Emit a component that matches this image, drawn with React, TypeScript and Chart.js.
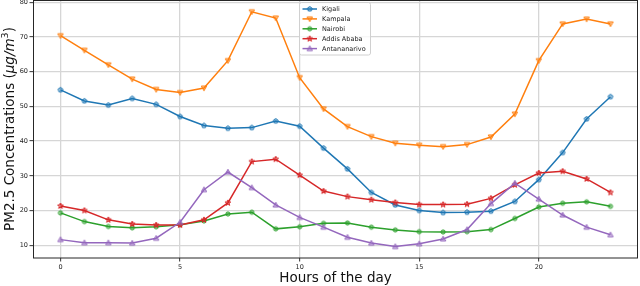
import React, { useEffect, useRef } from 'react';
import { Chart, registerables } from 'chart.js';

Chart.register(...registerables);

// ---------- data ----------
const hours = [0, 1, 2, 3, 4, 5, 6, 7, 8, 9, 10, 11, 12, 13, 14, 15, 16, 17, 18, 19, 20, 21, 22, 23];
const kigali = [54.8, 51.6, 50.4, 52.3, 50.6, 47.1, 44.5, 43.7, 43.9, 45.8, 44.3, 38.0, 32.0, 25.2, 21.6, 20.0, 19.4, 19.5, 19.8, 22.6, 28.9, 36.7, 46.4, 52.8];
const kampala = [70.4, 66.2, 62.0, 57.9, 54.9, 54.0, 55.3, 63.2, 77.3, 75.5, 58.3, 49.3, 44.2, 41.3, 39.4, 38.8, 38.4, 39.0, 41.2, 47.8, 63.2, 73.8, 75.2, 73.8];
const nairobi = [19.3, 16.8, 15.4, 15.0, 15.3, 15.9, 17.0, 19.0, 19.5, 14.7, 15.3, 16.3, 16.4, 15.2, 14.4, 13.9, 13.8, 13.9, 14.5, 17.7, 21.0, 22.1, 22.5, 21.2];
const addisAbaba = [21.3, 20.0, 17.3, 16.1, 15.8, 15.8, 17.3, 22.2, 34.1, 34.8, 30.2, 25.6, 24.0, 23.1, 22.3, 21.7, 21.7, 21.8, 23.5, 27.4, 30.8, 31.3, 29.1, 25.2];
const antananarivo = [11.6, 10.7, 10.7, 10.6, 12.0, 16.6, 26.0, 31.1, 26.6, 21.6, 18.0, 15.2, 12.3, 10.6, 9.6, 10.4, 11.8, 14.5, 22.0, 27.9, 23.3, 18.7, 15.2, 13.0];

const seriesLabels = ['Kigali', 'Kampala', 'Nairobi', 'Addis Ababa', 'Antananarivo'];
const seriesValues = [kigali, kampala, nairobi, addisAbaba, antananarivo];
const seriesColors = ['#1f77b4', '#ff7f0e', '#2ca02c', '#d62728', '#9467bd'];
const seriesMarkers = ['pentagon', 'triDown', 'circle', 'star', 'triUp'];

const xTicks = [0, 5, 10, 15, 20];
const yTicks = [10, 20, 30, 40, 50, 60, 70, 80];
const xTitle = 'Hours of the day';

// ---------- helpers ----------
function hexA(hex: string, a: number) {
  const r = parseInt(hex.slice(1, 3), 16);
  const g = parseInt(hex.slice(3, 5), 16);
  const b = parseInt(hex.slice(5, 7), 16);
  return `rgba(${r},${g},${b},${a})`;
}

function markerPath(ctx: CanvasRenderingContext2D, kind: string, cx: number, cy: number) {
  ctx.beginPath();
  if (kind === 'circle') {
    ctx.arc(cx, cy, 2.1, 0, Math.PI * 2);
  } else if (kind === 'pentagon') {
    const r = 2.5;
    for (let i = 0; i < 5; i++) {
      const a = -Math.PI / 2 + (i * 2 * Math.PI) / 5;
      const px = cx + r * Math.cos(a);
      const py = cy + r * Math.sin(a);
      if (i === 0) ctx.moveTo(px, py);
      else ctx.lineTo(px, py);
    }
    ctx.closePath();
  } else if (kind === 'star') {
    const ro = 3.0, ri = 1.25;
    for (let i = 0; i < 10; i++) {
      const r = i % 2 === 0 ? ro : ri;
      const a = -Math.PI / 2 + (i * Math.PI) / 5;
      const px = cx + r * Math.cos(a);
      const py = cy + r * Math.sin(a);
      if (i === 0) ctx.moveTo(px, py);
      else ctx.lineTo(px, py);
    }
    ctx.closePath();
  } else if (kind === 'triDown') {
    const r = 2.7;
    ctx.moveTo(cx - r, cy - r * 0.75);
    ctx.lineTo(cx + r, cy - r * 0.75);
    ctx.lineTo(cx, cy + r);
    ctx.closePath();
  } else if (kind === 'triUp') {
    const r = 2.7;
    ctx.moveTo(cx - r, cy + r * 0.75);
    ctx.lineTo(cx + r, cy + r * 0.75);
    ctx.lineTo(cx, cy - r);
    ctx.closePath();
  }
}

function makeMarker(kind: string, color: string): HTMLCanvasElement {
  const c = document.createElement('canvas');
  c.width = 10;
  c.height = 10;
  const ctx = c.getContext('2d')!;
  markerPath(ctx, kind, 5, 5);
  ctx.fillStyle = hexA(color, 0.4);
  ctx.fill();
  ctx.lineWidth = 1;
  ctx.strokeStyle = color;
  ctx.stroke();
  return c;
}

export default function App() {
  const ref = useRef<HTMLCanvasElement | null>(null);

  useEffect(() => {
    document.body.style.margin = '0';
    const canvas = ref.current;
    if (!canvas) return;

    const markers = seriesMarkers.map((m, i) => makeMarker(m, seriesColors[i]));

    const datasets = seriesLabels.map((label, i) => ({
      label,
      data: hours.map((h, j) => ({ x: h, y: seriesValues[i][j] })),
      borderColor: seriesColors[i],
      backgroundColor: seriesColors[i],
      borderWidth: 1.5,
      pointStyle: markers[i] as any,
      pointRadius: 3,
      tension: 0,
      order: seriesLabels.length - 1 - i,
    }));

    const framePlugin = {
      id: 'frameAndText',
      afterDraw(chart: any) {
        const ctx: CanvasRenderingContext2D = chart.ctx;
        const ca = chart.chartArea;
        ctx.save();
        // frame
        ctx.strokeStyle = '#262626';
        ctx.lineWidth = 1;
        ctx.strokeRect(ca.left + 0.5, ca.top + 0.5, ca.right - ca.left - 1, ca.bottom - ca.top - 0.5);

        // legend
        const bx = 299.5, by = 2.5, bw = 71, bh = 52.5;
        ctx.beginPath();
        const rr = 2;
        ctx.moveTo(bx + rr, by);
        ctx.lineTo(bx + bw - rr, by);
        ctx.quadraticCurveTo(bx + bw, by, bx + bw, by + rr);
        ctx.lineTo(bx + bw, by + bh - rr);
        ctx.quadraticCurveTo(bx + bw, by + bh, bx + bw - rr, by + bh);
        ctx.lineTo(bx + rr, by + bh);
        ctx.quadraticCurveTo(bx, by + bh, bx, by + bh - rr);
        ctx.lineTo(bx, by + rr);
        ctx.quadraticCurveTo(bx, by, bx + rr, by);
        ctx.closePath();
        ctx.fillStyle = 'rgba(255,255,255,0.8)';
        ctx.fill();
        ctx.strokeStyle = '#d0d0d0';
        ctx.lineWidth = 1;
        ctx.stroke();

        ctx.font = '6.5px "DejaVu Sans"';
        ctx.textBaseline = 'middle';
        ctx.textAlign = 'left';
        seriesLabels.forEach((lab, i) => {
          const y = 9 + i * 9.9;
          ctx.strokeStyle = seriesColors[i];
          ctx.lineWidth = 1.5;
          ctx.beginPath();
          ctx.moveTo(302.5, y);
          ctx.lineTo(317, y);
          ctx.stroke();
          ctx.drawImage(markers[i], 309.7 - 5, y - 5);
          ctx.fillStyle = '#222';
          ctx.fillText(lab, 322, y + 0.3);
        });

        // x title
        ctx.fillStyle = '#111';
        ctx.font = '13.5px "DejaVu Sans"';
        ctx.textAlign = 'center';
        ctx.textBaseline = 'alphabetic';
        ctx.fillText(xTitle, (ca.left + ca.right) / 2, 281.5);

        // y title with math pieces
        const pieces = [
          { t: 'PM2.5 Concentrations (', f: '13.5px "DejaVu Sans"', dy: 0 },
          { t: 'μg/m', f: 'italic 13.5px "DejaVu Sans"', dy: 0 },
          { t: '3', f: '9.5px "DejaVu Sans"', dy: -5.5 },
          { t: ')', f: '13.5px "DejaVu Sans"', dy: 0 },
        ];
        let total = 0;
        const widths = pieces.map((p) => {
          ctx.font = p.f;
          const w = ctx.measureText(p.t).width;
          total += w;
          return w;
        });
        ctx.translate(13.5, (ca.top + ca.bottom) / 2);
        ctx.rotate(-Math.PI / 2);
        ctx.textAlign = 'left';
        let x = -total / 2;
        pieces.forEach((p, i) => {
          ctx.font = p.f;
          ctx.fillText(p.t, x, p.dy);
          x += widths[i];
        });
        ctx.restore();
      },
    };

    const chart = new Chart(canvas, {
      type: 'line',
      data: { datasets },
      options: {
        animation: false,
        responsive: false,
        devicePixelRatio: 1,
        layout: { autoPadding: false, padding: { left: 0, right: 2, top: 0, bottom: 0 } },
        plugins: {
          legend: { display: false },
          tooltip: { enabled: false },
        },
        scales: {
          x: {
            type: 'linear',
            min: -1.15,
            max: 24.15,
            afterBuildTicks: (scale: any) => {
              scale.ticks = xTicks.map((v) => ({ value: v }));
            },
            afterFit: (scale: any) => {
              scale.height = 28;
              scale.paddingLeft = 0;
              scale.paddingRight = 0;
            },
            grid: {
              color: '#d6d6d6',
              lineWidth: 1.3,
              tickColor: '#333',
              tickWidth: 1,
              tickLength: 3.5,
            },
            border: { display: false },
            ticks: {
              font: { family: 'DejaVu Sans', size: 6.5 },
              color: '#222',
              padding: 2,
              maxRotation: 0,
              autoSkip: false,
            },
          },
          y: {
            type: 'linear',
            min: 6.3,
            max: 80.7,
            afterBuildTicks: (scale: any) => {
              scale.ticks = yTicks.map((v) => ({ value: v }));
            },
            afterFit: (scale: any) => {
              scale.width = 33;
              scale.paddingTop = 0;
              scale.paddingBottom = 0;
            },
            grid: {
              color: '#d6d6d6',
              lineWidth: 1.3,
              tickColor: '#333',
              tickWidth: 1,
              tickLength: 3.5,
            },
            border: { display: false },
            ticks: {
              font: { family: 'DejaVu Sans', size: 6.5 },
              color: '#222',
              padding: 1.5,
              autoSkip: false,
            },
          },
        },
      },
      plugins: [framePlugin],
    });

    return () => chart.destroy();
  }, []);

  return (
    <div style={{ width: 640, height: 286 }}>
      <canvas ref={ref} width={640} height={286} style={{ display: 'block', width: 640, height: 286 }} />
    </div>
  );
}
